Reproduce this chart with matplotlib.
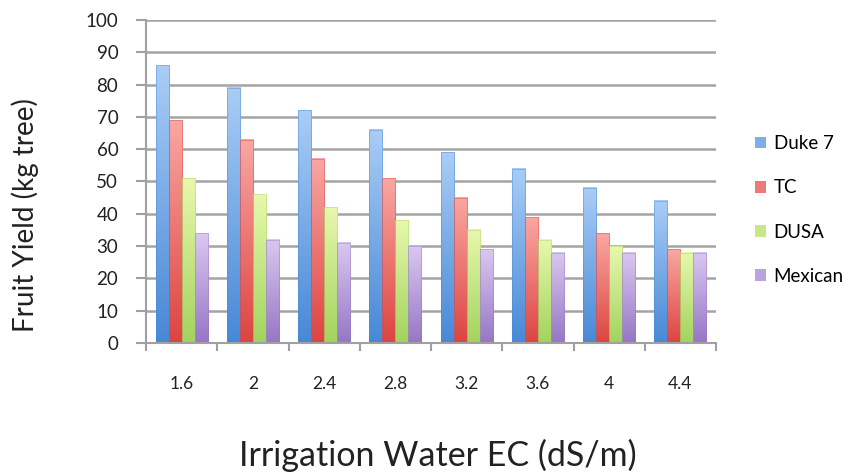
import matplotlib
matplotlib.use('Agg')
import matplotlib.pyplot as plt
import numpy as np
from matplotlib.colors import LinearSegmentedColormap

plt.rcParams['font.family'] = ['Lato', 'DejaVu Sans']

ec = ['1.6', '2', '2.4', '2.8', '3.2', '3.6', '4', '4.4']
duke7 = [86, 79, 72, 66, 59, 54, 48, 44]
tc = [69, 63, 57, 51, 45, 39, 34, 29]
dusa = [51, 46, 42, 38, 35, 32, 30, 28]
mexican = [34, 32, 31, 30, 29, 28, 28, 28]

# name, values, light (top) colour, dark (bottom) colour
series = [
    ('Duke 7', duke7, '#aacdf6', '#4788d6'),
    ('TC', tc, '#f9a7a3', '#dd4440'),
    ('DUSA', dusa, '#e8f8ae', '#a2d35e'),
    ('Mexican', mexican, '#dac8f0', '#9676c6'),
]

fig = plt.figure(figsize=(8.51, 4.76), dpi=100)
ax = fig.add_axes([0.1716, 0.2794, 0.6698, 0.6786])

x = np.arange(len(ec))
w = 0.183
grad = np.linspace(1, 0, 256).reshape(-1, 1)

for i, (name, vals, top, bot) in enumerate(series):
    cmap = LinearSegmentedColormap.from_list(name, [bot, top])
    mid = cmap(0.55)
    bars = ax.bar(x + (i - 1.5) * w, vals, w, color=mid, label=name, zorder=2)
    for b in bars:
        x0 = b.get_x()
        ax.imshow(grad, cmap=cmap, vmin=0, vmax=1, aspect='auto',
                  extent=[x0, x0 + b.get_width(), 0, b.get_height()],
                  zorder=2.1)
    # thin soft outline around each bar
    ax.bar(x + (i - 1.5) * w, vals, w, fill=False, edgecolor=bot, lw=0.6,
           alpha=0.5, zorder=2.2)

ax.set_xlim(-0.5, len(ec) - 0.5)
ax.set_ylim(0, 100)

ax.set_xticks(np.arange(-0.5, len(ec), 1))
ax.set_xticklabels([])
ax.set_xticks(x, minor=True)
ax.set_xticklabels(ec, minor=True, fontsize=12.5)
ax.tick_params(axis='x', which='major', length=6, width=1.5, color='#a0a0a0')
ax.tick_params(axis='x', which='minor', length=0, pad=24, labelcolor='#222222')

ax.set_yticks(range(0, 101, 10))
ax.tick_params(axis='y', length=7, width=1.5, color='#a0a0a0', labelsize=13.5,
               labelcolor='#222222', pad=13)

ax.set_axisbelow(True)
ax.yaxis.grid(True, color='#a4a4a4', lw=1.8)
for s in ['top', 'right']:
    ax.spines[s].set_visible(False)
for s in ['left', 'bottom']:
    ax.spines[s].set_color('#a0a0a0')
    ax.spines[s].set_linewidth(1.5)

fig.text(0.03, 0.548, 'Fruit Yield (kg tree)', rotation=90, ha='center',
         va='center', fontsize=20, color='#222222')
fig.text(0.515, 0.044, 'Irrigation Water EC (dS/m)', ha='center',
         va='center', fontsize=24.5, color='#222222')

fig.legend(loc='center left', bbox_to_anchor=(0.876, 0.559), frameon=False,
           handlelength=0.6, handleheight=0.6, handletextpad=0.4,
           labelspacing=1.45, fontsize=13.5, borderpad=0)

fig.savefig('out.png', dpi=100)
